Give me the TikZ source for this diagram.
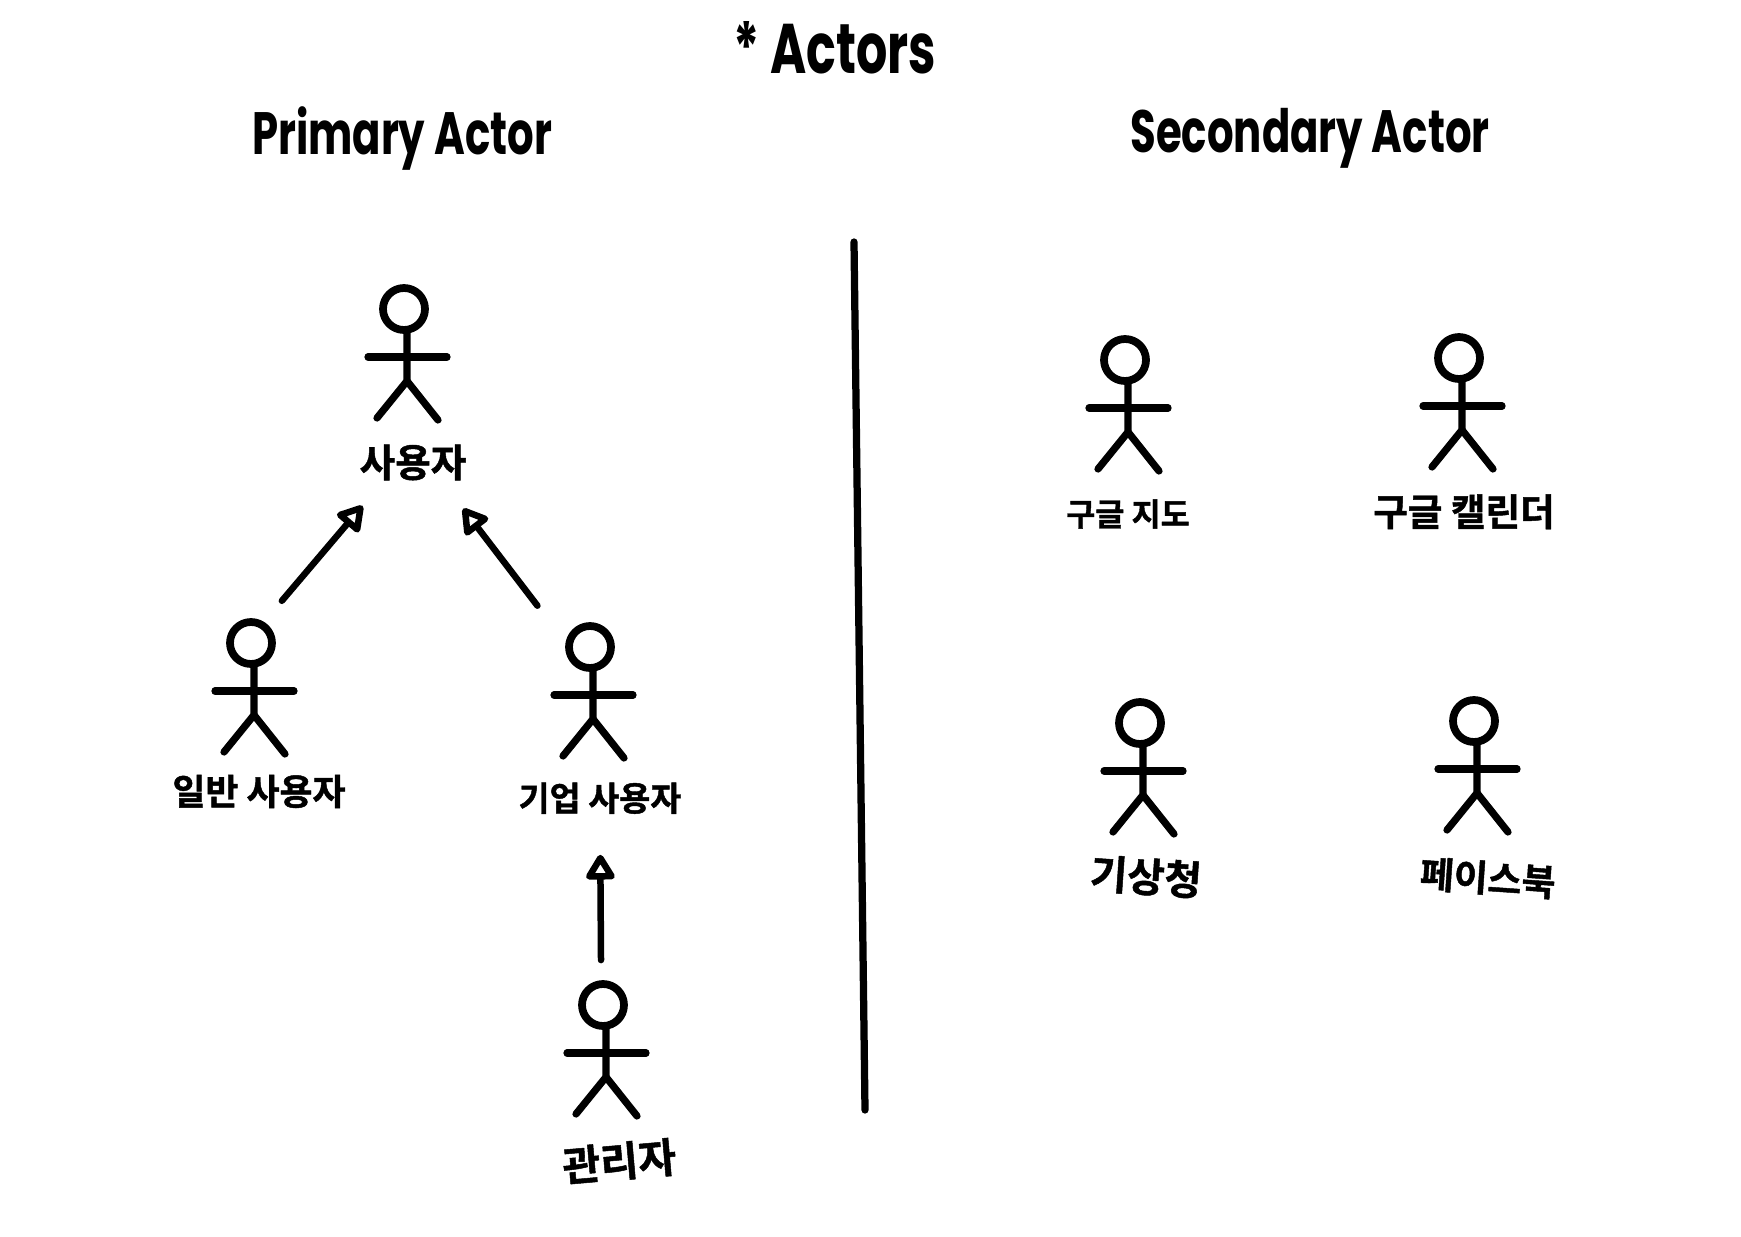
\documentclass[tikz,border=0pt]{standalone}
\usepackage{fontspec}
\setmainfont{Noto Sans CJK KR}[BoldFont=* Bold, BoldFeatures={FakeBold=1.2}]
\newfontfamily\titlefont{Poppins}[FakeStretch=0.7]
\usepackage{tikz}
\usetikzlibrary{positioning, arrows.meta}
\tikzset{
  actorhead/.style={draw, circle, line width=1.55mm, minimum size=8.4mm, inner sep=0pt, outer sep=0pt},
  actorline/.style={line width=1.45mm, line cap=round, line join=round},
  actorlabel/.style={font=\bfseries\fontsize{#1}{24}\selectfont, inner sep=0pt, outer sep=0pt, text height=17pt, text depth=0pt},
  actorlabel/.default=20,
  titlelabel/.style={font=\titlefont\bfseries\fontsize{#1}{44}\selectfont},
  titlelabel/.default=34,
  genarrow/.style={line width=1.3mm, line cap=round, -{Triangle[open,round,length=5.6mm,width=6.4mm]}}
}
\newcommand{\actorbody}[1]{%
  \draw[actorline] ([xshift=0.6mm]#1.south) -- ++(0,51) -- ++(-30,37);
  \draw[actorline] ([shift={(3,72)}]#1.center) -- ++(31,39);
  \draw[actorline] ([shift={(-36,48)}]#1.center) -- ++(79,0);
}
\begin{document}
\begin{tikzpicture}[x=0.02cm, y=-0.02cm]
  \useasboundingbox (0,0) rectangle (1741,1237);
  % titles
  \node[titlelabel=40] (maintitle) at (835,48) {* Actors};
  \node[titlelabel] (primary) at (402,138) {Primary Actor};
  \node[titlelabel] (secondary) at (1310,138) {Secondary Actor};
  % primary actors
  \node[actorhead] (userhead) at (404,309) {};
  \node[actorhead] (ilbanhead) at (251,643) {};
  \node[actorhead] (gieophead) at (590,647) {};
  \node[actorhead] (adminhead) at (603,1005) {};
  \actorbody{userhead}
  \actorbody{ilbanhead}
  \actorbody{gieophead}
  \actorbody{adminhead}
  \node[actorlabel=22, below=2.34cm of userhead, xshift=1.8mm] (userlabel) {사용자};
  \node[actorlabel=20.4, below=2.22cm of ilbanhead, xshift=1.6mm] (ilbanlabel) {일반 사용자};
  \node[actorlabel=19.2, below=2.26cm of gieophead, xshift=2mm] (gieoplabel) {기업 사용자};
  \node[actorlabel=23.5, below=2.42cm of adminhead, xshift=3mm, rotate=5] (adminlabel) {관리자};
  % secondary actors
  \node[actorhead] (maphead) at (1125,360) {};
  \node[actorhead] (calhead) at (1459,358) {};
  \node[actorhead] (kmahead) at (1140,723) {};
  \node[actorhead] (fbhead) at (1474,721) {};
  \actorbody{maphead}
  \actorbody{calhead}
  \actorbody{kmahead}
  \actorbody{fbhead}
  \node[actorlabel=18, below=2.3cm of maphead, xshift=0.6mm] (maplabel) {구글 지도};
  \node[actorlabel=21.4, below=2.34cm of calhead, xshift=1mm] (callabel) {구글 캘린더};
  \node[actorlabel=23, below=2.36cm of kmahead, xshift=1.4mm, rotate=-4] (kmalabel) {기상청};
  \node[actorlabel=21, below=2.4cm of fbhead, xshift=3mm, rotate=-4] (fblabel) {페이스북};
  % generalisation arrows
  \draw[genarrow, shorten <=6.3mm, shorten >=7.6mm] (ilbanhead.60) -- (userlabel.210);
  \draw[genarrow, shorten <=10.4mm, shorten >=8mm] (gieophead.west) -- (userlabel.330);
  \draw[genarrow, shorten <=4.8mm, shorten >=8.8mm] (adminhead.95) -- (gieoplabel.south);
  % divider
  \coordinate (divtop) at (854,242);
  \coordinate (divbottom) at (865,1110);
  \draw[actorline] (divtop) -- (divbottom);
\end{tikzpicture}
\end{document}
